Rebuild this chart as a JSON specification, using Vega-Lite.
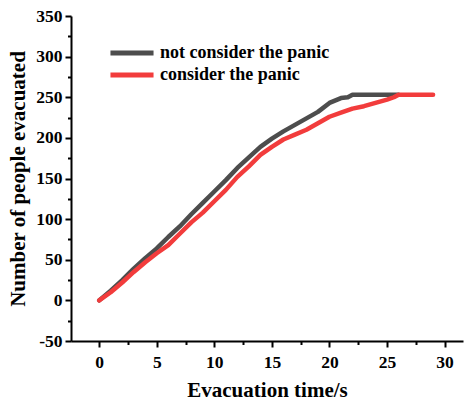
{
  "$schema": "https://vega.github.io/schema/vega-lite/v6.json",
  "autosize": {"type": "none"},
  "padding": {"left": 71, "top": 16, "right": 3, "bottom": 61},
  "width": 392,
  "height": 325,
  "background": "white",
  "config": {
    "view": {"stroke": null},
    "font": "Liberation Serif",
    "axis": {
      "grid": false,
      "domainColor": "black",
      "domainWidth": 2,
      "tickColor": "black",
      "tickWidth": 2,
      "labelFont": "Liberation Serif",
      "labelFontWeight": "bold",
      "labelFontSize": 17.5,
      "labelColor": "black",
      "titleFont": "Liberation Serif",
      "titleFontWeight": "bold",
      "titleFontSize": 21,
      "titleColor": "black",
      "labelOverlap": false,
      "labelFlush": false
    }
  },
  "data": {
    "values": [
      {"t": 0, "n": 0, "s": "not consider the panic"},
      {"t": 1, "n": 12, "s": "not consider the panic"},
      {"t": 2, "n": 25, "s": "not consider the panic"},
      {"t": 3, "n": 39, "s": "not consider the panic"},
      {"t": 4, "n": 52, "s": "not consider the panic"},
      {"t": 5, "n": 64, "s": "not consider the panic"},
      {"t": 6, "n": 78, "s": "not consider the panic"},
      {"t": 7, "n": 91, "s": "not consider the panic"},
      {"t": 8, "n": 106, "s": "not consider the panic"},
      {"t": 9, "n": 120, "s": "not consider the panic"},
      {"t": 10, "n": 134, "s": "not consider the panic"},
      {"t": 11, "n": 148, "s": "not consider the panic"},
      {"t": 12, "n": 163, "s": "not consider the panic"},
      {"t": 13, "n": 176, "s": "not consider the panic"},
      {"t": 14, "n": 189, "s": "not consider the panic"},
      {"t": 15, "n": 199, "s": "not consider the panic"},
      {"t": 16, "n": 208, "s": "not consider the panic"},
      {"t": 17, "n": 216, "s": "not consider the panic"},
      {"t": 18, "n": 224, "s": "not consider the panic"},
      {"t": 19, "n": 232, "s": "not consider the panic"},
      {"t": 20, "n": 243, "s": "not consider the panic"},
      {"t": 21, "n": 249, "s": "not consider the panic"},
      {"t": 21.6, "n": 250, "s": "not consider the panic"},
      {"t": 22, "n": 253, "s": "not consider the panic"},
      {"t": 26, "n": 253, "s": "not consider the panic"},
      {"t": 0, "n": 0, "s": "consider the panic"},
      {"t": 1, "n": 10, "s": "consider the panic"},
      {"t": 2, "n": 22, "s": "consider the panic"},
      {"t": 3, "n": 35, "s": "consider the panic"},
      {"t": 4, "n": 47, "s": "consider the panic"},
      {"t": 5, "n": 58, "s": "consider the panic"},
      {"t": 6, "n": 68, "s": "consider the panic"},
      {"t": 7, "n": 82, "s": "consider the panic"},
      {"t": 8, "n": 96, "s": "consider the panic"},
      {"t": 9, "n": 108, "s": "consider the panic"},
      {"t": 10, "n": 122, "s": "consider the panic"},
      {"t": 11, "n": 136, "s": "consider the panic"},
      {"t": 12, "n": 152, "s": "consider the panic"},
      {"t": 13, "n": 165, "s": "consider the panic"},
      {"t": 14, "n": 179, "s": "consider the panic"},
      {"t": 15, "n": 189, "s": "consider the panic"},
      {"t": 16, "n": 198, "s": "consider the panic"},
      {"t": 17, "n": 204, "s": "consider the panic"},
      {"t": 18, "n": 210, "s": "consider the panic"},
      {"t": 19, "n": 218, "s": "consider the panic"},
      {"t": 20, "n": 226, "s": "consider the panic"},
      {"t": 21, "n": 231, "s": "consider the panic"},
      {"t": 22, "n": 236, "s": "consider the panic"},
      {"t": 23, "n": 239, "s": "consider the panic"},
      {"t": 24, "n": 243, "s": "consider the panic"},
      {"t": 25, "n": 247, "s": "consider the panic"},
      {"t": 25.6, "n": 250, "s": "consider the panic"},
      {"t": 26, "n": 253, "s": "consider the panic"},
      {"t": 29, "n": 253, "s": "consider the panic"}
    ]
  },
  "mark": {"type": "line", "strokeWidth": 4.5, "strokeCap": "round", "strokeJoin": "round"},
  "encoding": {
    "x": {
      "field": "t", "type": "quantitative",
      "scale": {"domain": [-2.45, 31.6], "nice": false, "zero": false},
      "axis": {
        "title": "Evacuation time/s",
        "values": [0, 2.5, 5, 7.5, 10, 12.5, 15, 17.5, 20, 22.5, 25, 27.5, 30],
        "labelExpr": "datum.value % 5 === 0 ? datum.label : ''",
        "tickSize": {"condition": {"test": "datum.value % 5 === 0", "value": 6}, "value": 3.5},
        "labelPadding": 6,
        "titlePadding": 9
      }
    },
    "y": {
      "field": "n", "type": "quantitative",
      "scale": {"domain": [-50, 350], "nice": false, "zero": false},
      "axis": {
        "title": "Number of people evacuated",
        "values": [-50, -25, 0, 25, 50, 75, 100, 125, 150, 175, 200, 225, 250, 275, 300, 325, 350],
        "labelExpr": "datum.value % 50 === 0 ? '' + datum.value : ''",
        "tickSize": {"condition": {"test": "datum.value % 50 === 0", "value": 6}, "value": 3.5},
        "labelPadding": 3,
        "titlePadding": 7
      }
    },
    "color": {
      "field": "s", "type": "nominal",
      "scale": {"domain": ["not consider the panic", "consider the panic"], "range": ["#4d4d4d", "#f23c3c"]},
      "legend": {
        "title": null,
        "orient": "none",
        "legendX": 52,
        "legendY": 28,
        "padding": 0,
        "symbolType": "M-4,0H4",
        "symbolSize": 116,
        "symbolStrokeWidth": 5,
        "labelFont": "Liberation Serif",
        "labelFontWeight": "bold",
        "labelFontSize": 18,
        "labelColor": "black",
        "labelOffset": 19,
        "labelLimit": 0,
        "rowPadding": 2
      }
    }
  }
}
